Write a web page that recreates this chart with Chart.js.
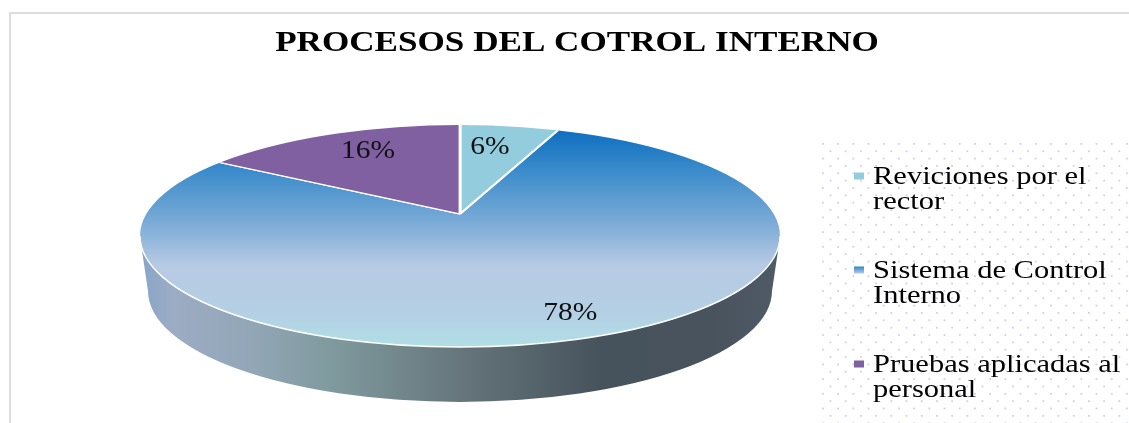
<!DOCTYPE html>
<html><head><meta charset="utf-8">
<style>html,body{margin:0;padding:0;background:#fff}canvas{display:block}</style>
<script src="https://cdn.jsdelivr.net/npm/chart.js@4"></script>
</head><body><canvas id="c" width="1129" height="423"></canvas>
<script>
const titleText = 'PROCESOS DEL COTROL INTERNO';
const categories = [['Reviciones por el','rector'],['Sistema de Control','Interno'],['Pruebas aplicadas al','personal']];
const shares = [6, 78, 16];
const sliceColors = ['#93cddd', null, '#8060a0'];
const legendColors = ['#93cddd', '#5b9bd5', '#8060a0'];
const labelReachX = [0.38, 0.85, 0.455];
const labelReachY = [0.48, 0.74, 0.50];

// layout of the tilted disc on the page
const TOP = {cx:460, cy:236, rx:320, ry:111};
const BASE = {cx:460, cy:291, rx:312, ry:111};
const APEX = {x:460, y:214};
const REACH = {x:420, y:142};
const SERIF = '"Liberation Serif"';
const TEXT_STRETCH = 1.22;
const LEGEND_FONT = 25;

const arcInfo = chart => {
  const a = chart.getDatasetMeta(0).data[0];
  return {x:a.x, y:a.y, r:a.outerRadius};
};
const blueFill = c => {
  const chart = c.chart, area = chart.chartArea;
  if (!area) return '#5b9bd5';
  const r = Math.min(area.right-area.left, area.bottom-area.top)/2, y0=(area.top+area.bottom)/2;
  const toLocal = y => y0 + (y-APEX.y)*r/REACH.y;
  const g = chart.ctx.createLinearGradient(0,toLocal(128),0,toLocal(348));
  const stops = [[128,'#0b6cbf'],[170,'#3a8bcb'],[220,'#77a9d6'],[265,'#b7cae3'],[310,'#b4cfe4'],[348,'#b1dfe6']];
  stops.forEach(([y,col])=>g.addColorStop((y-128)/220,col));
  return g;
};

const discPlugin = {
  id:'disc',
  beforeDraw(chart){
    const ctx = chart.ctx;
    ctx.save();
    ctx.fillStyle='#fff'; ctx.fillRect(0,0,1129,423);
    ctx.fillStyle='#dcdcdc';
    ctx.fillRect(9,12,1120,2); ctx.fillRect(9,12,2,411);
    ctx.fillStyle='#d0d0ee';
    let row=0;
    for(let y=143;y<423;y+=7.35,row++){
      for(let x=822+(row%2?7.6:0);x<1129;x+=15.2){ctx.fillRect(x,y,1.8,1.8);}
    }
    ctx.restore();
    const wrap=(box,fn,after)=>{ if(box._wrapped) return; box._wrapped=true; const d=box.draw.bind(box);
      box.draw=(c)=>{const cx=box.ctx; cx.save(); fn(cx,box); d(c); cx.restore(); if(after) after(cx,box);}; };
    wrap(chart.titleBlock,(cx,b)=>{cx.translate(577,0);cx.scale(1.17,1);cx.translate(-(b.left+b.right)/2,0);});
    const legendTextLeft = 873 - (LEGEND_FONT/2)*TEXT_STRETCH;
    wrap(chart.legend,(cx,b)=>{
      const first=b.legendHitBoxes[0];
      cx.translate(legendTextLeft,177-12.5);
      cx.scale(TEXT_STRETCH,1);
      cx.translate(-first.left,-first.top);
    },(cx,b)=>{
      // small square markers, placed from the legend's own item rows
      const first=b.legendHitBoxes[0];
      b.legendHitBoxes.forEach((h,i)=>{
        const y=176+(h.top-first.top)-3.5;
        let fill=legendColors[i];
        if(i===1){const g=cx.createLinearGradient(0,y,0,y+7);g.addColorStop(0,'#2f86c9');g.addColorStop(1,'#b5cbe5');fill=g;}
        cx.fillStyle=fill; cx.fillRect(854,y,10,7);
      });
    });
  },
  beforeDatasetsDraw(chart){
    const ctx = chart.ctx, info = arcInfo(chart);
    ctx.save();
    const g = ctx.createLinearGradient(140,0,780,0);
    [[0,'#86a5c8'],[0.05,'#9cacc4'],[0.18,'#92a6b6'],[0.3,'#7f9a9e'],[0.5,'#66767c'],[0.72,'#46525c'],[0.9,'#48535e'],[1,'#505b68']]
      .forEach(([p,col])=>g.addColorStop(p,col));
    ctx.fillStyle=g;
    ctx.beginPath();
    ctx.ellipse(BASE.cx,BASE.cy,BASE.rx,BASE.ry,0,0,Math.PI);
    ctx.lineTo(TOP.cx-TOP.rx+1,TOP.cy+8);
    ctx.lineTo(TOP.cx+TOP.rx-1,TOP.cy+8);
    ctx.closePath(); ctx.fill();
    ctx.beginPath(); ctx.ellipse(TOP.cx,TOP.cy,TOP.rx,TOP.ry,0,0,Math.PI*2); ctx.clip();
    ctx.translate(APEX.x,APEX.y);
    ctx.scale(REACH.x/info.r,REACH.y/info.r);
    ctx.translate(-info.x,-info.y);
  },
  afterDatasetsDraw(chart){
    const ctx = chart.ctx;
    ctx.restore();
    ctx.save();
    ctx.strokeStyle='#fff'; ctx.lineWidth=1.4;
    ctx.beginPath(); ctx.ellipse(TOP.cx,TOP.cy,TOP.rx,TOP.ry,0,0,Math.PI); ctx.stroke();
    ctx.fillStyle='#111'; ctx.textAlign='center'; ctx.textBaseline='middle';
    ctx.font='25px '+SERIF;
    chart.getDatasetMeta(0).data.forEach((a,i)=>{
      const mid=(a.startAngle+a.endAngle)/2;
      const px=APEX.x+Math.cos(mid)*REACH.x*labelReachX[i];
      const py=APEX.y+Math.sin(mid)*REACH.y*labelReachY[i];
      ctx.save(); ctx.translate(px,py); ctx.scale(1.18,1);
      ctx.fillText(shares[i]+'%',0,0); ctx.restore();
    });
    ctx.restore();
  }
};

new Chart(document.getElementById('c'),{
  type:'pie',
  data:{labels:categories,datasets:[{data:shares,clip:false,
    backgroundColor:c=>sliceColors[c.dataIndex]||blueFill(c),
    borderColor:'#fff',borderWidth:1.2}]},
  options:{
    responsive:false,animation:false,
    layout:{padding:0},
    plugins:{
      tooltip:{enabled:false},
      title:{display:true,text:titleText,color:'#000',font:{family:SERIF,size:30,weight:'bold'},padding:{top:25,bottom:8}},
      legend:{position:'right',align:'start',
        labels:{color:'#111',font:{family:SERIF,size:LEGEND_FONT,lineHeight:1},boxWidth:0,boxHeight:0,padding:44,
          generateLabels(chart){
            return categories.map((t,i)=>({text:t,fillStyle:'rgba(0,0,0,0)',strokeStyle:'rgba(0,0,0,0)',lineWidth:0,index:i,hidden:false}));
          }}}
    }
  },
  plugins:[discPlugin]
});
</script></body></html>
